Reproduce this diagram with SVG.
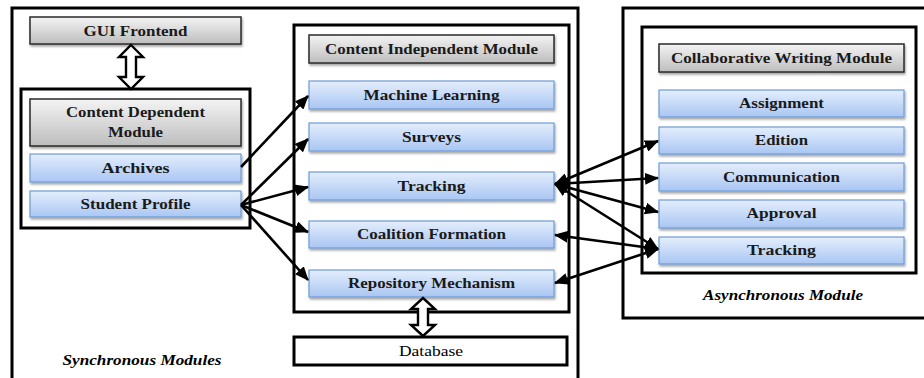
<svg xmlns="http://www.w3.org/2000/svg" width="924" height="378" viewBox="0 0 924 378">
<defs>
<linearGradient id="gBlue" x1="0" y1="0" x2="0" y2="1">
<stop offset="0" stop-color="#e4eefc"/>
<stop offset="1" stop-color="#a9c6f3"/>
</linearGradient>
<linearGradient id="gGray" x1="0" y1="0" x2="0" y2="1">
<stop offset="0" stop-color="#f4f4f4"/>
<stop offset="1" stop-color="#bdbdbd"/>
</linearGradient>
<filter id="sh" x="-5%" y="-20%" width="110%" height="160%">
<feDropShadow dx="1" dy="2" stdDeviation="1.2" flood-color="#000" flood-opacity="0.35"/>
</filter>
<marker id="ah" viewBox="0 0 14 12" refX="13" refY="6" markerWidth="14" markerHeight="12" markerUnits="userSpaceOnUse" orient="auto-start-reverse">
<path d="M0,0 L14,6 L0,12 z" fill="#000"/>
</marker>
</defs>
<style>
.frame{fill:none;stroke:#000;stroke-width:3}
.blue{fill:url(#gBlue);stroke:#6f9bd6;stroke-width:1.2;filter:url(#sh)}
.gray{fill:url(#gGray);stroke:#2a2a2a;stroke-width:1.5;filter:url(#sh)}
text{font-family:'Liberation Serif','Times New Roman','DejaVu Serif',serif}
.lbl{font-weight:bold;font-size:15px;fill:#1a1a1a;text-anchor:middle}
.ital{font-weight:bold;font-style:italic;font-size:15px;fill:#000;text-anchor:middle}
.reg{font-size:15px;fill:#000;text-anchor:middle}
.con{fill:none;stroke:#000;stroke-width:2.6}
.dbl{fill:#fff;stroke:#000;stroke-width:2.4;stroke-linejoin:miter}
</style>
<rect width="924" height="378" fill="#fff"/>

<g id="synchronous-modules">
<rect class="frame" x="12" y="8" width="566" height="390"/>
<text class="ital" x="142" y="365" textLength="159" lengthAdjust="spacingAndGlyphs">Synchronous Modules</text>
</g>

<g id="gui-frontend">
<rect class="gray" x="30" y="17" width="211" height="27"/>
<text class="lbl" x="135.5" y="36" font-size="16" textLength="104" lengthAdjust="spacingAndGlyphs">GUI Frontend</text>
</g>

<g id="content-dependent-module">
<rect class="frame" x="21" y="89" width="229" height="139"/>
<rect class="gray" x="30" y="99" width="211" height="47"/>
<text class="lbl" x="135.5" y="117" textLength="139" lengthAdjust="spacingAndGlyphs">Content Dependent</text>
<text class="lbl" x="135.5" y="137" textLength="55" lengthAdjust="spacingAndGlyphs">Module</text>
</g>
<g id="archives">
<rect class="blue" x="30" y="154" width="211" height="28"/>
<text class="lbl" x="135.5" y="173" textLength="68" lengthAdjust="spacingAndGlyphs">Archives</text>
</g>
<g id="student-profile">
<rect class="blue" x="30" y="191" width="211" height="26"/>
<text class="lbl" x="135.5" y="209" textLength="110" lengthAdjust="spacingAndGlyphs">Student Profile</text>
</g>

<g id="content-independent-module">
<rect class="frame" x="294" y="25" width="275" height="287"/>
<rect class="gray" x="309" y="35" width="245" height="28"/>
<text class="lbl" x="431.5" y="54" textLength="213" lengthAdjust="spacingAndGlyphs">Content Independent Module</text>
</g>
<g id="machine-learning">
<rect class="blue" x="309" y="81" width="245" height="28"/>
<text class="lbl" x="431.5" y="100" textLength="136" lengthAdjust="spacingAndGlyphs">Machine Learning</text>
</g>
<g id="surveys">
<rect class="blue" x="309" y="123" width="245" height="28"/>
<text class="lbl" x="431.5" y="142" textLength="59" lengthAdjust="spacingAndGlyphs">Surveys</text>
</g>
<g id="tracking-ci">
<rect class="blue" x="309" y="172" width="245" height="28"/>
<text class="lbl" x="431.5" y="191" textLength="68" lengthAdjust="spacingAndGlyphs">Tracking</text>
</g>
<g id="coalition-formation">
<rect class="blue" x="309" y="221" width="245" height="27"/>
<text class="lbl" x="431.5" y="239" textLength="149" lengthAdjust="spacingAndGlyphs">Coalition Formation</text>
</g>
<g id="repository-mechanism">
<rect class="blue" x="309" y="270" width="245" height="27"/>
<text class="lbl" x="431.5" y="288" textLength="167" lengthAdjust="spacingAndGlyphs">Repository Mechanism</text>
</g>
<g id="database">
<rect class="frame" x="294" y="337" width="273" height="28"/>
<text class="reg" x="431" y="356" textLength="64" lengthAdjust="spacingAndGlyphs">Database</text>
</g>

<g id="asynchronous-module">
<rect class="frame" x="623" y="8" width="320" height="310"/>
<text class="ital" x="783" y="300" textLength="160" lengthAdjust="spacingAndGlyphs">Asynchronous Module</text>
</g>
<g id="collaborative-writing-module">
<rect class="frame" x="642" y="27" width="274" height="246"/>
<rect class="gray" x="659" y="44" width="245" height="28"/>
<text class="lbl" x="781.5" y="63" textLength="221" lengthAdjust="spacingAndGlyphs">Collaborative Writing Module</text>
</g>
<g id="assignment">
<rect class="blue" x="659" y="90" width="245" height="27"/>
<text class="lbl" x="781.5" y="108" textLength="85" lengthAdjust="spacingAndGlyphs">Assignment</text>
</g>
<g id="edition">
<rect class="blue" x="659" y="127" width="245" height="27"/>
<text class="lbl" x="781.5" y="145" textLength="53" lengthAdjust="spacingAndGlyphs">Edition</text>
</g>
<g id="communication">
<rect class="blue" x="659" y="163" width="245" height="28"/>
<text class="lbl" x="781.5" y="182" textLength="117" lengthAdjust="spacingAndGlyphs">Communication</text>
</g>
<g id="approval">
<rect class="blue" x="659" y="200" width="245" height="28"/>
<text class="lbl" x="781.5" y="218" textLength="70" lengthAdjust="spacingAndGlyphs">Approval</text>
</g>
<g id="tracking-cw">
<rect class="blue" x="659" y="237" width="245" height="27"/>
<text class="lbl" x="781.5" y="255" textLength="69" lengthAdjust="spacingAndGlyphs">Tracking</text>
</g>

<g id="connectors">
<polygon class="dbl" points="131,45 143,57 136,57 136,77 143,77 131,89 119,77 126,77 126,57 119,57"/>
<polygon class="dbl" points="423,298 435,309 428,309 428,325 435,325 423,336 411,325 418,325 418,309 411,309"/>
<line class="con" x1="241" y1="167" x2="308" y2="96" marker-end="url(#ah)"/>
<line class="con" x1="241" y1="205" x2="308" y2="139" marker-end="url(#ah)"/>
<line class="con" x1="241" y1="205" x2="308" y2="187" marker-end="url(#ah)"/>
<line class="con" x1="241" y1="205" x2="308" y2="232" marker-end="url(#ah)"/>
<line class="con" x1="241" y1="205" x2="308" y2="280" marker-end="url(#ah)"/>
<line class="con" x1="555" y1="184" x2="658" y2="141" marker-start="url(#ah)" marker-end="url(#ah)"/>
<line class="con" x1="555" y1="184" x2="658" y2="178" marker-start="url(#ah)" marker-end="url(#ah)"/>
<line class="con" x1="555" y1="184" x2="658" y2="212" marker-start="url(#ah)" marker-end="url(#ah)"/>
<line class="con" x1="555" y1="184" x2="658" y2="249" marker-start="url(#ah)" marker-end="url(#ah)"/>
<line class="con" x1="555" y1="235" x2="658" y2="249" marker-start="url(#ah)" marker-end="url(#ah)"/>
<line class="con" x1="555" y1="283" x2="658" y2="249" marker-start="url(#ah)" marker-end="url(#ah)"/>
</g>
</svg>
